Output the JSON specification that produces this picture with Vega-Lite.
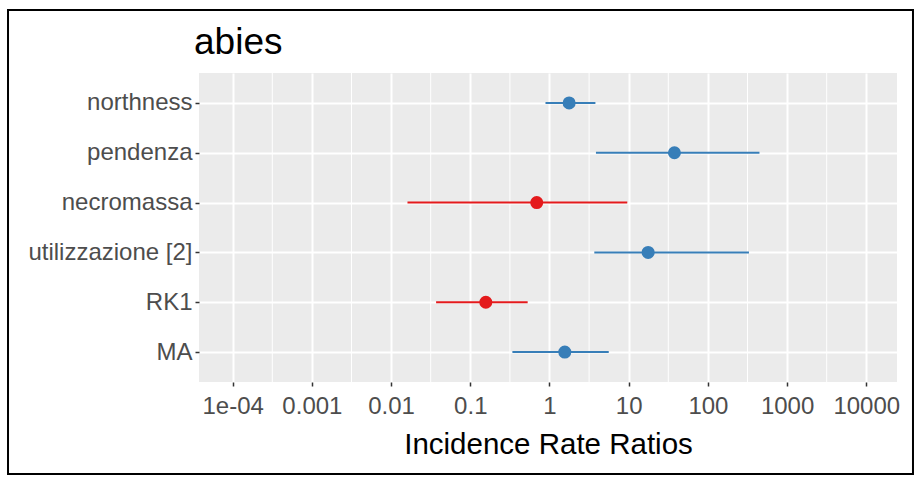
{
  "$schema": "https://vega.github.io/schema/vega-lite/v6.json",
  "width": 698,
  "height": 309,
  "autosize": {"type": "none"},
  "padding": {"left": 199, "top": 73, "right": 20, "bottom": 102},
  "background": "white",
  "title": {"text": "abies", "anchor": "start", "frame": "group", "fontSize": 37, "font": "Liberation Sans", "fontWeight": "normal", "color": "black", "offset": -53, "dx": -5},
  "config": {
    "font": "Liberation Sans",
    "view": {"fill": "#ebebeb", "stroke": null}
  },
  "datasets": {
    "est": [
      {"term": "northness", "irr": 1.77, "lo": 0.89, "hi": 3.8, "dir": "pos"},
      {"term": "pendenza", "irr": 37.8, "lo": 3.86, "hi": 448, "dir": "pos"},
      {"term": "necromassa", "irr": 0.69, "lo": 0.0161, "hi": 9.6, "dir": "neg"},
      {"term": "utilizzazione [2]", "irr": 17.6, "lo": 3.68, "hi": 330, "dir": "pos"},
      {"term": "RK1", "irr": 0.157, "lo": 0.037, "hi": 0.53, "dir": "neg"},
      {"term": "MA", "irr": 1.56, "lo": 0.34, "hi": 5.6, "dir": "pos"}
    ],
    "minor": [
      {"m": 0.000316228}, {"m": 0.00316228}, {"m": 0.0316228}, {"m": 0.316228},
      {"m": 3.16228}, {"m": 31.6228}, {"m": 316.228}, {"m": 3162.28}
    ]
  },
  "layer": [
    {
      "layer": [
        {
          "data": {"name": "minor"},
          "mark": {"type": "rule", "stroke": "white", "strokeWidth": 1},
          "encoding": {
            "x": {"field": "m", "type": "quantitative",
              "scale": {"type": "log", "domain": [3.753e-5, 24420], "nice": false, "zero": false},
              "axis": {"title": "Incidence Rate Ratios", "values": [0.0001, 0.001, 0.01, 0.1, 1, 10, 100, 1000, 10000],
                "format": "~g", "labelExpr": "datum.value < 0.0005 ? '1e-04' : datum.label",
                "domain": false, "grid": true, "gridColor": "white", "gridWidth": 2,
                "labelFontSize": 24, "labelColor": "#4d4d4d", "labelPadding": 8, "labelFlush": false, "labelOverlap": false,
                "tickSize": 4, "tickColor": "#333333", "tickWidth": 1.5,
                "titleFontSize": 29.5, "titleColor": "black", "titleFontWeight": "normal", "titlePadding": 12}}
          }
        },
        {
          "data": {"name": "est"},
          "mark": {"type": "rule", "strokeWidth": 2},
          "encoding": {
            "y": {"field": "term", "type": "ordinal",
              "scale": {"type": "point", "padding": 0.6, "domain": ["northness", "pendenza", "necromassa", "utilizzazione [2]", "RK1", "MA"]},
              "axis": {"title": null, "domain": false, "grid": true, "gridColor": "white", "gridWidth": 2,
                "labelFontSize": 24, "labelColor": "#4d4d4d", "labelPadding": 3,
                "tickSize": 4, "tickColor": "#333333", "tickWidth": 1.5}},
            "x": {"field": "lo", "type": "quantitative"},
            "x2": {"field": "hi"},
            "color": {"field": "dir", "type": "nominal", "scale": {"domain": ["neg", "pos"], "range": ["#e41a1c", "#377eb8"]}, "legend": null}
          }
        },
        {
          "data": {"name": "est"},
          "mark": {"type": "circle", "size": 170, "opacity": 1},
          "encoding": {
            "y": {"field": "term", "type": "ordinal"},
            "x": {"field": "irr", "type": "quantitative"},
            "color": {"field": "dir", "type": "nominal", "legend": null}
          }
        }
      ]
    },
    {
      "data": {"values": [{}]},
      "mark": {"type": "rect", "fillOpacity": 0, "stroke": "black", "strokeWidth": 2},
      "encoding": {
        "x": {"datum": 1.455e-7, "type": "quantitative"},
        "x2": {"datum": 38870},
        "y": {"datum": 1.2039, "type": "quantitative", "scale": {"domain": [0, 1], "nice": false, "zero": false}, "axis": null},
        "y2": {"datum": -0.2977}
      }
    }
  ],
  "resolve": {"scale": {"y": "independent"}}
}
